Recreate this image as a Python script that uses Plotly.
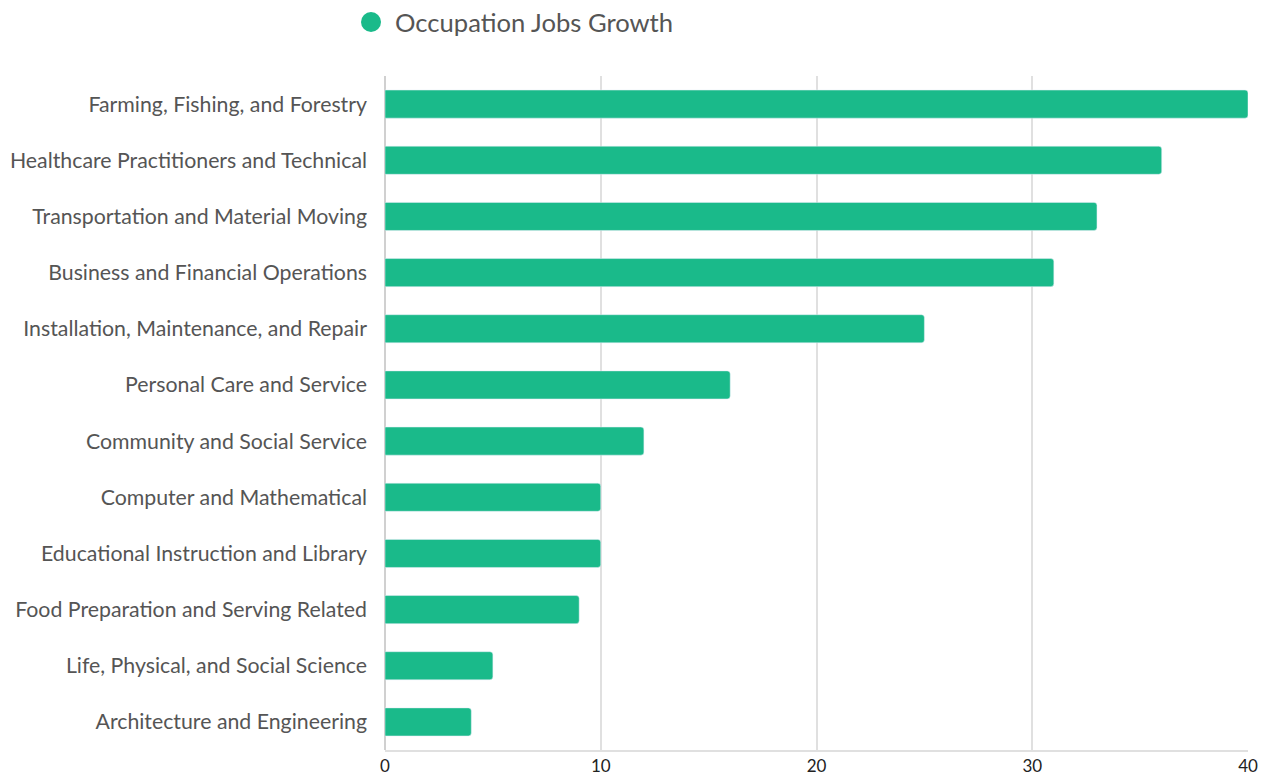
import plotly.graph_objects as go

categories = [
    "Farming, Fishing, and Forestry",
    "Healthcare Practitioners and Technical",
    "Transportation and Material Moving",
    "Business and Financial Operations",
    "Installation, Maintenance, and Repair",
    "Personal Care and Service",
    "Community and Social Service",
    "Computer and Mathematical",
    "Educational Instruction and Library",
    "Food Preparation and Serving Related",
    "Life, Physical, and Social Science",
    "Architecture and Engineering",
]
growth = [40, 36, 33, 31, 25, 16, 12, 10, 10, 9, 5, 4]
series_name = "Occupation Jobs Growth"

GREEN = "#1aba8a"
TEXT = "#555555"

fig = go.Figure()

fig.add_trace(go.Bar(
    x=growth,
    y=categories,
    orientation="h",
    name=series_name,
    width=0.5,
    marker=dict(color=GREEN, cornerradius=3),
    showlegend=False,
    hoverinfo="x+y",
))

# the page body adds an 8px margin, so the figure is 8px smaller than the window
fig.update_layout(
    width=1270,
    height=770,
    margin=dict(l=377, r=30, t=68, b=28, autoexpand=False),
    paper_bgcolor="white",
    plot_bgcolor="white",
    font=dict(family="Lato, sans-serif", color=TEXT, size=21),
    showlegend=False,
)

# legend drawn by hand: round swatch + label
fig.add_shape(
    type="circle",
    xref="paper", yref="paper",
    xsizemode="pixel", ysizemode="pixel",
    xanchor=-0.0162, yanchor=1.0801,
    x0=-10, x1=10, y0=-10, y1=10,
    fillcolor=GREEN, line=dict(width=0),
)
fig.add_annotation(
    text=series_name,
    xref="paper", yref="paper",
    x=0.0093, y=1.0801,
    xanchor="left", yanchor="middle",
    showarrow=False,
    font=dict(size=25.6, color=TEXT),
)

fig.update_xaxes(
    range=[0, 40],
    dtick=10,
    showgrid=True,
    gridcolor="#e0e0e0",
    gridwidth=2,
    zeroline=True,
    zerolinecolor="#d0d0d0",
    zerolinewidth=2,
    showline=True,
    linecolor="#e0e0e0",
    linewidth=2,
    tickfont=dict(size=17, color="#222222"),
    automargin=False,
    fixedrange=True,
)

fig.update_yaxes(
    categoryorder="array",
    categoryarray=categories[::-1],
    showgrid=False,
    ticklabelstandoff=17,
    tickfont=dict(size=21.3, color=TEXT),
    automargin=False,
    fixedrange=True,
)

fig.write_html("out.html")
